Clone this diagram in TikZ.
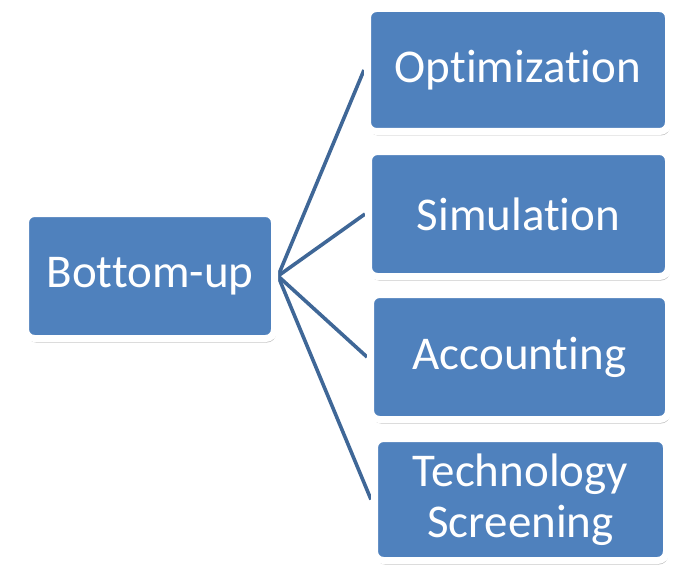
\documentclass[tikz,border=0pt]{standalone}
\usepackage{fontspec}
\setmainfont{Carlito}[Ligatures={NoCommon}, Contextuals={NoAlternate}]
\usepackage{tikz}
\usetikzlibrary{backgrounds}
\usetikzlibrary{shadows}
\definecolor{boxblue}{HTML}{4F81BD}
\definecolor{linkblue}{HTML}{3F6797}
\tikzset{
	method/.style = {
		rectangle,
		rounded corners=9pt,
		fill=boxblue,
		draw=white,
		line width=7pt,
		text=white,
		align=center,
		inner sep=0pt,
		font=\fontsize{47}{51}\selectfont,
		drop shadow={shadow xshift=1.5pt, shadow yshift=-4pt, opacity=0.4, fill=black!60}
	},
	link/.style = {
		draw=linkblue,
		line width=3.6pt
	}
}
\begin{document}
\begin{tikzpicture}[
		x=1pt, y=-1pt,
	]

	% The canvas
	\useasboundingbox (0,0) rectangle (676,564);

	% Draw the root
	\node (bu) [method, minimum width=249pt, minimum height=125pt] at (150,276) {Bottom-up};

	% Draw the methods
	\node (opt) [method, minimum width=301pt, minimum height=123pt] at (518,70) {Optimization};
	\node (sim) [method, minimum width=300pt, minimum height=125pt] at (518.5,214) {Simulation};
	\node (acc) [method, minimum width=298pt, minimum height=125pt] at (519.5,357) {Accounting};
	\node (tec) [method, minimum width=292pt, minimum height=122pt] at (520.5,499.5) {Technology\\Screening};

	% Draw the links
	\begin{scope}[on background layer]
		\foreach \m in {opt, sim, acc, tec}
			\draw[link] (bu.east) -- (\m.west);
	\end{scope}

\end{tikzpicture}
\end{document}
